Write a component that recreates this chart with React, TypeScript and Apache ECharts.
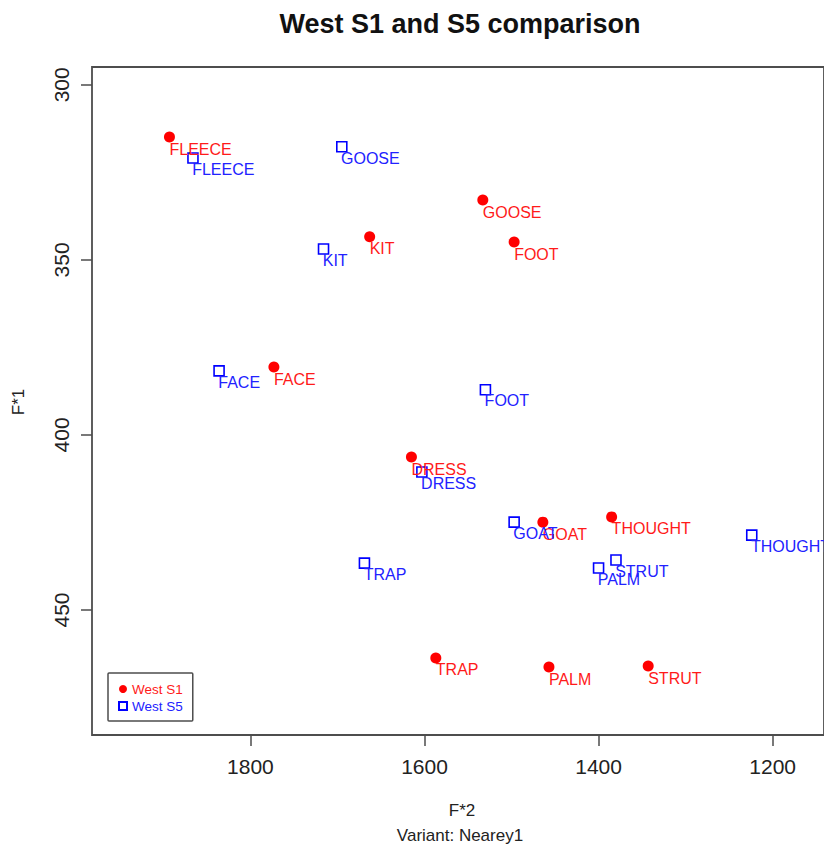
import React, { useEffect, useRef } from "react";
import * as echarts from "echarts";

// Vowel categories (Wells lexical sets)
const vowels = ["FLEECE", "KIT", "FACE", "DRESS", "TRAP", "PALM", "STRUT", "THOUGHT", "GOAT", "FOOT", "GOOSE"];

// West S1: normalised formants (F*2 on x, F*1 on y)
const s1F2 = [1893, 1663, 1773, 1615, 1587, 1457, 1343, 1385, 1464, 1497, 1533];
const s1F1 = [314.9, 343.4, 380.6, 406.3, 463.7, 466.3, 466.0, 423.4, 424.9, 344.9, 332.9];

// West S5
const s5F2 = [1866, 1716, 1836, 1603, 1669, 1400, 1380, 1224, 1497, 1530, 1695];
const s5F1 = [320.9, 346.9, 381.7, 410.6, 436.6, 438.0, 435.7, 428.6, 424.9, 387.1, 317.7];

// Axis ticks
const xTicks = [1200, 1400, 1600, 1800];
const yTicks = [300, 350, 400, 450];

const FONT = '"Liberation Sans", Arial, Helvetica, sans-serif';
const RED = "#ff0000";
const BLUE = "#0000ff";
const RED_TEXT = "#ff1a1a";
const BLUE_TEXT = "#2222ff";

export default function App() {
  const ref = useRef<HTMLDivElement>(null);

  useEffect(() => {
    if (!ref.current) return;
    const chart = echarts.init(ref.current, undefined, { renderer: "svg" });

    const s1Data = vowels.map((v, i) => ({ name: v, value: [s1F2[i], s1F1[i]] }));
    const s5Data = vowels.map((v, i) => ({ name: v, value: [s5F2[i], s5F1[i]] }));

    const dotSize = 11;
    const boxSize = 10;
    const labelDrop = 12;
    const plain = (v: number) => String(v);

    chart.setOption({
      animation: false,
      backgroundColor: "#ffffff",
      textStyle: { fontFamily: FONT },
      grid: {
        left: 92,
        top: 67,
        right: 0,
        bottom: 111,
        show: true,
        borderColor: "#4d4d4d",
        borderWidth: 1.8,
        backgroundColor: "transparent",
      },
      xAxis: {
        type: "value",
        inverse: true,
        min: 1141,
        max: 1982,
        axisLine: { show: false },
        splitLine: { show: false },
        axisTick: {
          show: true,
          customValues: xTicks,
          length: 11,
          lineStyle: { color: "#4d4d4d", width: 1.5 },
        },
        axisLabel: {
          customValues: xTicks,
          formatter: plain,
          fontSize: 21,
          color: "#222",
          margin: 21,
          fontFamily: FONT,
        },
      },
      yAxis: {
        type: "value",
        inverse: true,
        min: 294.9,
        max: 485.7,
        axisLine: { show: false },
        splitLine: { show: false },
        axisTick: {
          show: true,
          customValues: yTicks,
          length: 11,
          lineStyle: { color: "#4d4d4d", width: 1.5 },
        },
        axisLabel: {
          customValues: yTicks,
          formatter: plain,
          rotate: 90,
          fontSize: 21,
          color: "#222",
          margin: 20,
          fontFamily: FONT,
        },
      },
      legend: {
        left: 108,
        top: 673,
        orient: "vertical",
        padding: [9, 10, 8, 10],
        itemGap: 3,
        itemWidth: 8,
        itemHeight: 8,
        borderColor: "#4d4d4d",
        borderWidth: 1.5,
        borderRadius: 1,
        selectedMode: false,
        data: [
          { name: "West S1", textStyle: { color: RED_TEXT, fontSize: 13.5, fontFamily: FONT } },
          { name: "West S5", textStyle: { color: BLUE_TEXT, fontSize: 13.5, fontFamily: FONT } },
        ],
      },
      graphic: [
        {
          type: "text",
          x: 460,
          y: 24,
          style: {
            text: "West S1 and S5 comparison",
            fontSize: 27,
            fontWeight: "bold",
            fontFamily: FONT,
            fill: "#111",
            align: "center",
            verticalAlign: "middle",
          },
        },
        {
          type: "text",
          x: 462,
          y: 810,
          style: {
            text: "F*2",
            fontSize: 17,
            fontFamily: FONT,
            fill: "#222",
            align: "center",
            verticalAlign: "middle",
          },
        },
        {
          type: "text",
          x: 460,
          y: 835,
          style: {
            text: "Variant: Nearey1",
            fontSize: 17,
            fontFamily: FONT,
            fill: "#222",
            align: "center",
            verticalAlign: "middle",
          },
        },
        {
          type: "text",
          x: 18,
          y: 402,
          rotation: Math.PI / 2,
          style: {
            text: "F*1",
            fontSize: 17,
            fontFamily: FONT,
            fill: "#222",
            align: "center",
            verticalAlign: "middle",
          },
        },
      ],
      series: [
        {
          name: "West S1",
          type: "scatter",
          symbol: "circle",
          symbolSize: dotSize,
          itemStyle: { color: RED, opacity: 1 },
          data: s1Data,
          label: {
            show: true,
            formatter: "{b}",
            position: [dotSize / 2, dotSize / 2 + labelDrop],
            align: "left",
            verticalAlign: "middle",
            color: RED_TEXT,
            fontSize: 16,
            fontFamily: FONT,
          },
          labelLayout: { hideOverlap: false },
        },
        {
          name: "West S5",
          type: "scatter",
          symbol: "rect",
          symbolSize: boxSize,
          itemStyle: { color: "rgba(0,0,0,0)", borderColor: BLUE, borderWidth: 1.6, opacity: 1 },
          data: s5Data,
          label: {
            show: true,
            formatter: "{b}",
            position: [boxSize / 2, boxSize / 2 + labelDrop],
            align: "left",
            verticalAlign: "middle",
            color: BLUE_TEXT,
            fontSize: 16,
            fontFamily: FONT,
          },
          labelLayout: { hideOverlap: false },
        },
      ],
    });

    return () => chart.dispose();
  }, []);

  return (
    <div
      ref={ref}
      style={{ position: "fixed", left: 0, top: 0, width: 824, height: 846, background: "#fff" }}
    />
  );
}
